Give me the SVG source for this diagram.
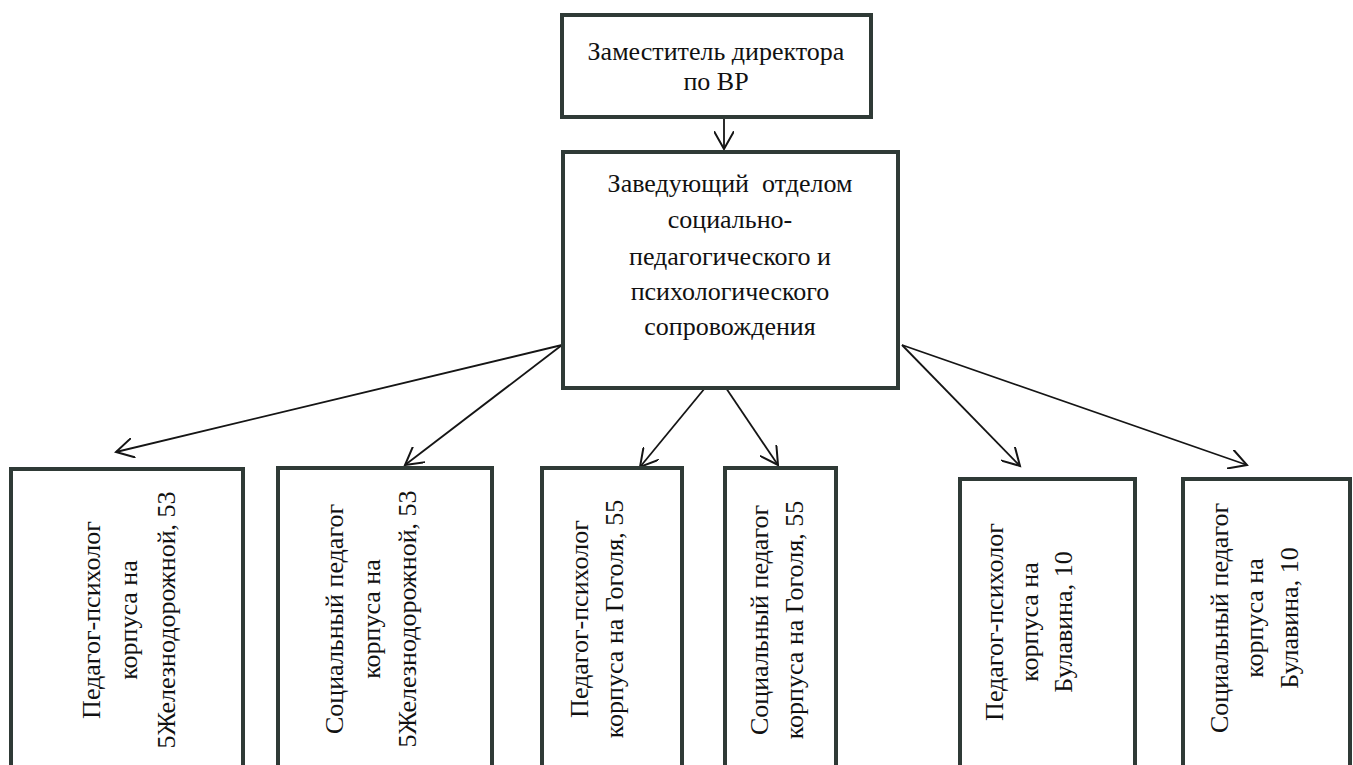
<svg xmlns="http://www.w3.org/2000/svg" width="1353" height="765" viewBox="0 0 1353 765">
<style>
.box{fill:#fff;stroke:#2f3a36;stroke-width:4}
.t{font-family:"Liberation Serif","Times New Roman",serif;font-size:26px;fill:#111;text-anchor:middle}
.c{fill:none;stroke:#151515;stroke-width:1.8}
</style>
<defs>
<marker id="ah" markerUnits="userSpaceOnUse" markerWidth="20" markerHeight="20" viewBox="0 0 18 18" refX="16" refY="9" orient="auto">
<path d="M0,0 L16,9 L0,18" fill="none" stroke="#151515" stroke-width="1.8"/>
</marker>
</defs>
<rect width="1353" height="765" fill="#fff"/>
<g id="connectors">
<line class="c" x1="724" y1="118" x2="724" y2="149" marker-end="url(#ah)"/>
<line class="c" x1="562" y1="345" x2="116" y2="452" marker-end="url(#ah)"/>
<line class="c" x1="562" y1="345" x2="405" y2="465" marker-end="url(#ah)"/>
<line class="c" x1="705" y1="388" x2="640" y2="467" marker-end="url(#ah)"/>
<line class="c" x1="726" y1="388" x2="778" y2="465" marker-end="url(#ah)"/>
<line class="c" x1="902" y1="345" x2="1020" y2="466" marker-end="url(#ah)"/>
<line class="c" x1="902" y1="345" x2="1247" y2="465" marker-end="url(#ah)"/>
</g>
<g id="n-top">
<rect class="box" x="562" y="15" width="309" height="102"/>
<text class="t" x="716" y="60">Заместитель директора</text>
<text class="t" x="716" y="90">по ВР</text>
</g>
<g id="n-head">
<rect class="box" x="563" y="152" width="335" height="236"/>
<text class="t" x="730" y="192" xml:space="preserve">Заведующий  отделом</text>
<text class="t" x="730" y="228">социально-</text>
<text class="t" x="730" y="265">педагогического и</text>
<text class="t" x="730" y="300">психологического</text>
<text class="t" x="730" y="335">сопровождения</text>
</g>
<g id="n1">
<rect class="box" x="11" y="469" width="232" height="310"/>
<text class="t" transform="translate(100,620) rotate(-90)">Педагог-психолог</text>
<text class="t" transform="translate(137,620) rotate(-90)">корпуса на</text>
<text class="t" transform="translate(175,620) rotate(-90)">5Железнодорожной, 53</text>
</g>
<g id="n2">
<rect class="box" x="278" y="468" width="214" height="310"/>
<text class="t" transform="translate(343,619) rotate(-90)">Социальный педагог</text>
<text class="t" transform="translate(380,619) rotate(-90)">корпуса на</text>
<text class="t" transform="translate(416,619) rotate(-90)">5Железнодорожной, 53</text>
</g>
<g id="n3">
<rect class="box" x="542" y="468" width="140" height="310"/>
<text class="t" transform="translate(588,619) rotate(-90)">Педагог-психолог</text>
<text class="t" transform="translate(623,619) rotate(-90)">корпуса на Гоголя, 55</text>
</g>
<g id="n4">
<rect class="box" x="725" y="468" width="111" height="310"/>
<text class="t" transform="translate(768,620) rotate(-90)">Социальный педагог</text>
<text class="t" transform="translate(803,620) rotate(-90)">корпуса на Гоголя, 55</text>
</g>
<g id="n5">
<rect class="box" x="960" y="479" width="175" height="300"/>
<text class="t" transform="translate(1003,622) rotate(-90)">Педагог-психолог</text>
<text class="t" transform="translate(1038,622) rotate(-90)">корпуса на</text>
<text class="t" transform="translate(1072,622) rotate(-90)">Булавина, 10</text>
</g>
<g id="n6">
<rect class="box" x="1183" y="479" width="167" height="300"/>
<text class="t" transform="translate(1228,618) rotate(-90)">Социальный педагог</text>
<text class="t" transform="translate(1263,618) rotate(-90)">корпуса на</text>
<text class="t" transform="translate(1298,618) rotate(-90)">Булавина, 10</text>
</g>
</svg>
